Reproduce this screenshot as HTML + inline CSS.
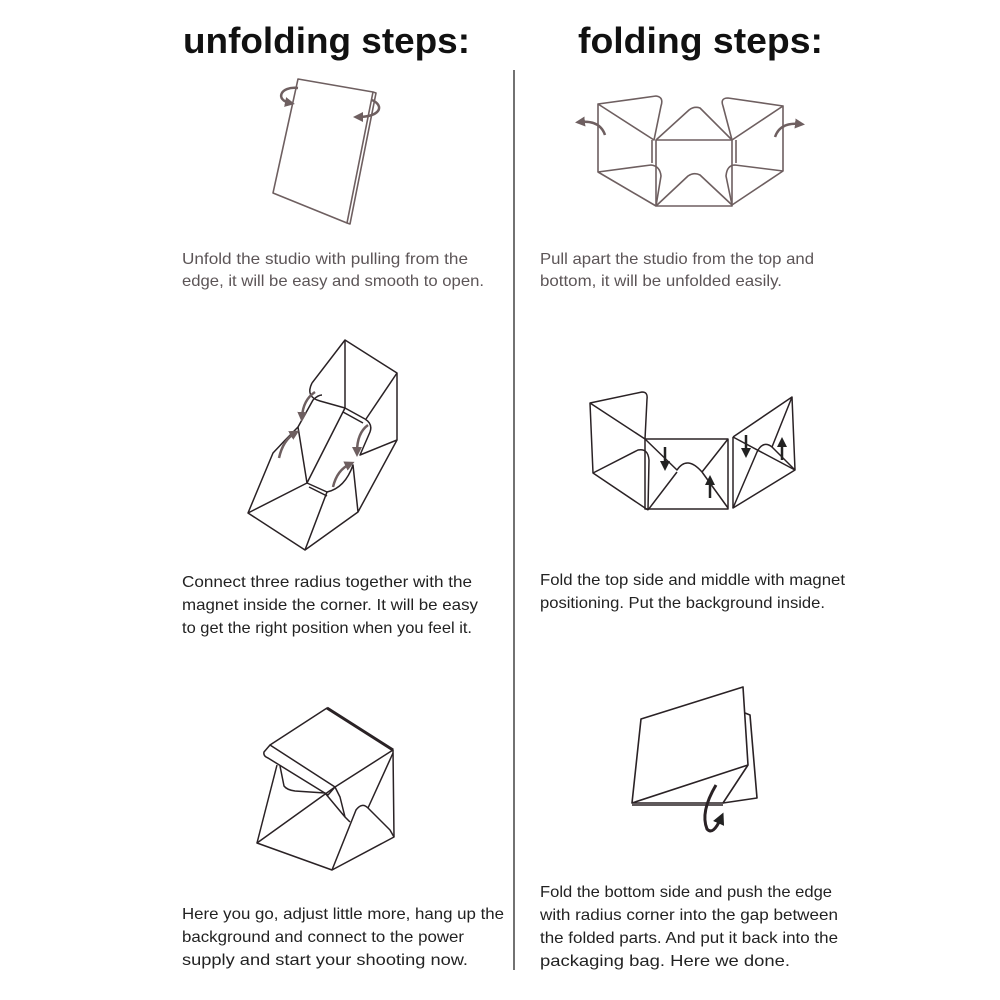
<!DOCTYPE html>
<html><head><meta charset="utf-8"><style>
html,body{margin:0;padding:0;background:#fff;}
svg{display:block;}
.t{font-family:"Liberation Sans",sans-serif;}
</style></head><body>
<svg width="1000" height="1000" viewBox="0 0 1000 1000" xmlns="http://www.w3.org/2000/svg">
<defs>
<marker id="ag" viewBox="0 0 10 10" refX="5" refY="5" markerWidth="4" markerHeight="4" orient="auto"><path d="M0,0 L10,5 L0,10 z" fill="#6e5f60"/></marker>
<marker id="ak" viewBox="0 0 10 10" refX="5" refY="5" markerWidth="4" markerHeight="4" orient="auto"><path d="M0,0 L10,5 L0,10 z" fill="#222"/></marker>
</defs>
<text class="t" x="183" y="53" font-size="36" font-weight="bold" fill="#111" textLength="287" lengthAdjust="spacingAndGlyphs">unfolding steps:</text>
<text class="t" x="578" y="53" font-size="36" font-weight="bold" fill="#111" textLength="245" lengthAdjust="spacingAndGlyphs">folding steps:</text>
<line x1="514" y1="70" x2="514" y2="970" stroke="#444" stroke-width="1.5"/>

<!-- Drawing 1 -->
<g fill="none" stroke="#6e5f60" stroke-width="1.6" stroke-linejoin="round">
<polygon points="298,79 373,92 347,223 273,193" fill="#fff"/>
<polyline points="373,92 376,93 350,224 347,223"/>
<path d="M298,88 C280,86 275,100 290,103" stroke-width="2.5" marker-end="url(#ag)"/>
<path d="M372,100 C385,106 380,117 358,117" stroke-width="2.5" marker-end="url(#ag)"/>
</g>

<!-- Drawing 2 -->
<g fill="none" stroke="#6e5f60" stroke-width="1.6" stroke-linejoin="round">
<rect x="656" y="140" width="76" height="66"/>
<line x1="652" y1="140" x2="652" y2="163"/><line x1="736" y1="140" x2="736" y2="163"/>
<path d="M598,104 L656,96 Q664,97 661,106 L654,140 L598,104 L598,172 L656,206"/>
<path d="M598,172 L651,165 Q660,166 661,176 L656,206"/>
<path d="M656,140 L689,110 Q694,106 700,108 L732,140"/>
<path d="M656,206 L688,176 Q694,172 700,175 L732,205"/>
<path d="M783,106 L728,98 Q720,98 723,106 L732,140 L783,106 L783,171 L732,205"/>
<path d="M783,171 L735,165 Q727,165 726,176 L732,205"/>
<path d="M605,135 Q600,120 580,122" stroke-width="2.5" marker-end="url(#ag)"/>
<path d="M775,137 Q780,122 800,124" stroke-width="2.5" marker-end="url(#ag)"/>
</g>

<!-- Drawing 3 -->
<g fill="none" stroke="#2a2225" stroke-width="1.5" stroke-linejoin="round">
<path d="M312,383 L345,340 L397,373 L397,440 L358,512 L305,550 L248,513 L273,453 Q285,440 298,427 L307,483 L248,513"/>
<path d="M345,340 L345,408 L307,483"/>
<path d="M312,383 Q305,397 320,401 L345,408 L365,419"/>
<path d="M343,412 L363,423"/>
<path d="M365,419 Q373,424 370,432 L360,455 L397,440"/>
<path d="M307,483 L327,492 L305,550"/>
<path d="M309,487 L327,496"/>
<path d="M327,492 Q345,488 353,465 L358,512"/>
<path d="M298,427 L313,400 Q318,395 322,395"/>
<path d="M397,373 L366,419"/>
<g stroke="#6e5f60" stroke-width="2.5">
<path d="M315,392 Q303,400 302,417" marker-end="url(#ag)"/>
<path d="M279,458 Q283,440 295,433" marker-end="url(#ag)"/>
<path d="M368,425 Q357,433 357,452" marker-end="url(#ag)"/>
<path d="M333,487 Q337,470 350,464" marker-end="url(#ag)"/>
</g>
</g>

<!-- Drawing 4 -->
<g fill="none" stroke="#2a2225" stroke-width="1.5" stroke-linejoin="round">
<path d="M590,403 L642,392 Q648,392 647,399 L645,439 L590,403 L593,473 L648,510"/>
<path d="M593,473 L638,450 Q648,448 649,460 L648,510"/>
<rect x="645" y="439" width="83" height="70"/>
<line x1="733" y1="437" x2="733" y2="508"/>
<path d="M645,439 L677,470 Q687,455 702,472 L728,508"/>
<path d="M648,510 L677,472"/><path d="M702,472 L728,439"/>
<path d="M733,437 L792,397 L795,470 L733,508 L757,452 Q763,440 772,447 L795,470"/>
<path d="M733,437 L795,470"/><path d="M772,447 L792,397"/>
<g stroke="#222" stroke-width="2.5">
<line x1="665" y1="447" x2="665" y2="466" marker-end="url(#ak)"/>
<line x1="710" y1="498" x2="710" y2="480" marker-end="url(#ak)"/>
<line x1="746" y1="435" x2="746" y2="453" marker-end="url(#ak)"/>
<line x1="782" y1="460" x2="782" y2="442" marker-end="url(#ak)"/>
</g>
</g>

<!-- Drawing 5 -->
<g fill="none" stroke="#2a2225" stroke-width="1.5" stroke-linejoin="round">
<path d="M327,708 L393,750 L335,787 L270,745 Z"/>
<line x1="327" y1="708" x2="393" y2="750" stroke-width="3"/>
<path d="M270,745 L264,752 Q263,756 268,758 L328,795 L335,787"/>
<path d="M393,750 L394,837 L332,870 L257,843 L335,787"/>
<path d="M277,765 L257,843"/>
<path d="M332,870 L356,810 Q362,802 368,808 L390,830 L394,837"/>
<path d="M393,753 L368,808"/>
<path d="M280,766 L284,786 Q287,790 295,791 L325,793 L345,817 L350,822"/>
<path d="M335,787 L340,797 L345,817"/>
</g>

<!-- Drawing 6 -->
<g fill="none" stroke="#2a2225" stroke-width="1.6" stroke-linejoin="round">
<path d="M745,713 L750,715 L757,798 L723,803"/>
<path d="M641,719 L743,687 L748,765 L632,803 Z" fill="#fff"/>
<path d="M632,803 L723,803 L748,765"/>
<path d="M632,805 L723,805"/>
<path d="M716,785 Q700,812 707,829 Q713,836 721,818" stroke-width="3" marker-end="url(#ak)"/>
</g>

<!-- Texts -->
<g class="t" font-size="16">
<g fill="#5c5557">
<text x="182" y="264" textLength="286" lengthAdjust="spacingAndGlyphs">Unfold the studio with pulling from the</text>
<text x="182" y="286" textLength="302" lengthAdjust="spacingAndGlyphs">edge, it will be easy and smooth to open.</text>
<text x="540" y="264" textLength="274" lengthAdjust="spacingAndGlyphs">Pull apart the studio from the top and</text>
<text x="540" y="286" textLength="242" lengthAdjust="spacingAndGlyphs">bottom, it will be unfolded easily.</text>
</g>
<g fill="#222">
<text x="182" y="587" textLength="290" lengthAdjust="spacingAndGlyphs">Connect three radius together with the</text>
<text x="182" y="610" textLength="296" lengthAdjust="spacingAndGlyphs">magnet inside the corner. It will be easy</text>
<text x="182" y="633" textLength="290" lengthAdjust="spacingAndGlyphs">to get the right position when you feel it.</text>
<text x="540" y="585" textLength="305" lengthAdjust="spacingAndGlyphs">Fold the top side and middle with magnet</text>
<text x="540" y="608" textLength="285" lengthAdjust="spacingAndGlyphs">positioning. Put the background inside.</text>
<text x="182" y="919" textLength="322" lengthAdjust="spacingAndGlyphs">Here you go, adjust little more, hang up the</text>
<text x="182" y="942" textLength="282" lengthAdjust="spacingAndGlyphs">background and connect to the power</text>
<text x="182" y="965" textLength="286" lengthAdjust="spacingAndGlyphs">supply and start your shooting now.</text>
<text x="540" y="897" textLength="292" lengthAdjust="spacingAndGlyphs">Fold the bottom side and push the edge</text>
<text x="540" y="920" textLength="298" lengthAdjust="spacingAndGlyphs">with radius corner into the gap between</text>
<text x="540" y="943" textLength="298" lengthAdjust="spacingAndGlyphs">the folded parts. And put it back into the</text>
<text x="540" y="966" textLength="250" lengthAdjust="spacingAndGlyphs">packaging bag. Here we done.</text>
</g>
</g>
</svg>
</body></html>
